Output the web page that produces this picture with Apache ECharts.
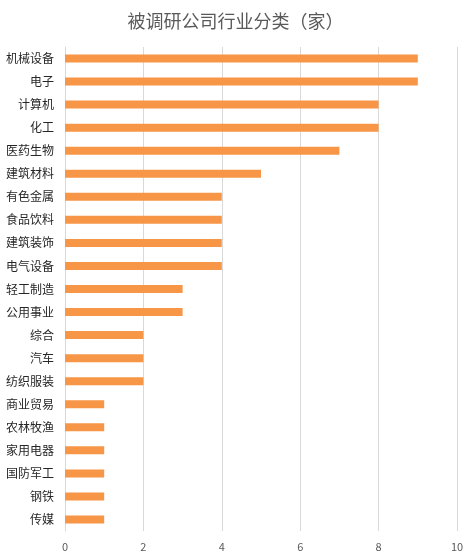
<!DOCTYPE html>
<html><head><meta charset="utf-8">
<script src="https://cdn.jsdelivr.net/npm/echarts@6/dist/echarts.min.js"></script>
<style>html,body{margin:0;padding:0;background:#fff}#c{width:471px;height:560px}</style>
</head><body><div id="c"></div>
<script>
const titleText = '被调研公司行业分类（家）';
const categories = ['机械设备','电子','计算机','化工','医药生物','建筑材料','有色金属','食品饮料','建筑装饰','电气设备','轻工制造','公用事业','综合','汽车','纺织服装','商业贸易','农林牧渔','家用电器','国防军工','钢铁','传媒'];
const counts = [9,9,8,8,7,5,4,4,4,4,3,3,2,2,2,1,1,1,1,1,1];
const xTicks = {min:0, max:10, interval:2};

const chart = echarts.init(document.getElementById('c'));
chart.setOption({
  animation:false,
  title:{text:titleText,left:'center',top:7,textStyle:{fontSize:18,fontWeight:'normal',color:'#595959',fontFamily:'Noto Sans CJK SC'}},
  grid:{left:65,right:14,top:47,bottom:29,containLabel:false},
  xAxis:{type:'value',min:xTicks.min,max:xTicks.max,interval:xTicks.interval,
    axisLine:{show:false},axisTick:{show:false},
    axisLabel:{color:'#595959',fontSize:11,margin:10,fontFamily:'Noto Sans CJK SC'},
    splitLine:{lineStyle:{color:'#D9D9D9',width:1}}},
  yAxis:{type:'category',inverse:true,data:categories,
    axisLine:{show:true,lineStyle:{color:'#D9D9D9'}},axisTick:{show:false},
    axisLabel:{color:'#262626',fontSize:12,margin:11,fontFamily:'Noto Sans CJK SC'}},
  series:[{type:'bar',data:counts,barWidth:8,itemStyle:{color:'#F79646'}}]
});
</script></body></html>
